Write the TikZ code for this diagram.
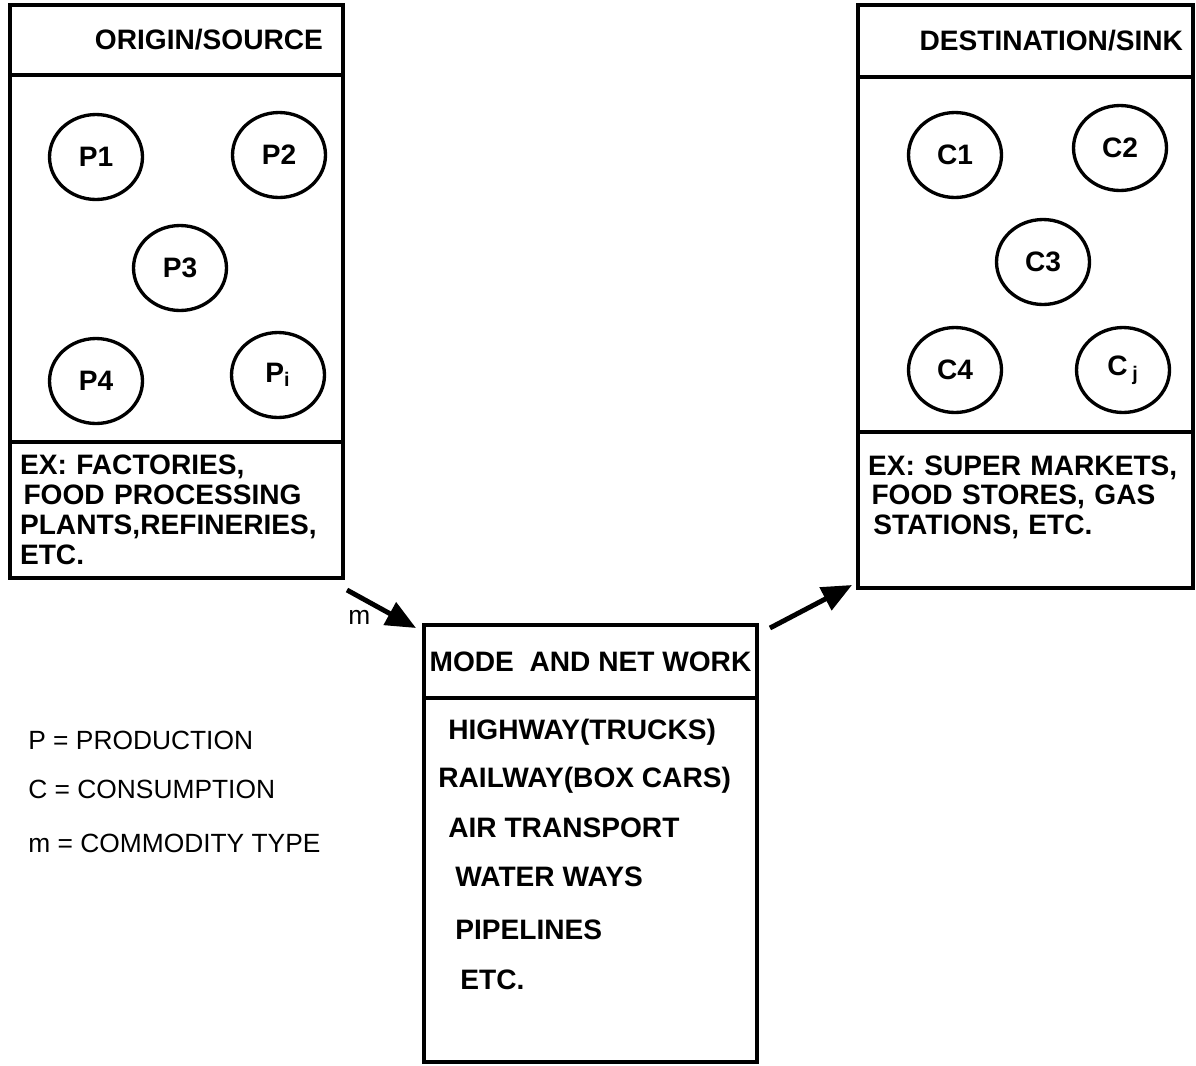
\documentclass[tikz,border=0pt]{standalone}
\usepackage{fontspec}
\setmainfont{Liberation Sans}
\usetikzlibrary{arrows.meta,positioning,shapes.geometric}

\begin{document}
\begin{tikzpicture}[x=0.02cm, y=-0.02cm,
  frame/.style={draw, line width=1.9pt, inner sep=0pt, outer sep=0pt},
  hdr/.style={frame, font=\fontsize{16}{17}\selectfont\bfseries, align=right},
  exbox/.style={frame, font=\fontsize{16}{17}\selectfont\bfseries, align=left, inner xsep=0.2cm},
  site/.style={ellipse, draw, line width=1.9pt, minimum width=1.86cm, minimum height=1.7cm, inner sep=0pt, font=\fontsize{16}{17}\selectfont\bfseries},
  item/.style={anchor=west, inner sep=0pt, font=\fontsize{16}{17}\selectfont\bfseries},
  key/.style={anchor=west, inner sep=0pt, font=\fontsize{15}{17}\selectfont},
  flow/.style={line width=2.8pt, -{Triangle[length=0.6cm,width=0.5cm]}}
]
  \useasboundingbox (0,0) rectangle (1196,1065);

  % origin / source
  \node[hdr, minimum width=6.66cm, minimum height=1.4cm, text width=5.86cm, inner xsep=0.4cm] (srchdr) at (176.5,40) {ORIGIN/SOURCE};
  \node[frame, minimum width=6.66cm, minimum height=7.34cm] (srcbody) at (176.5,258.5) {};
  \node[exbox, minimum width=6.66cm, minimum height=2.72cm, text width=6.26cm] (srcex) at (176.5,510)
    {EX: FACTORIES,\\ \hspace{2pt}FOOD PROCESSING\\ PLANTS,REFINERIES,\\ ETC.};

  \node[site] (p1) at (96,157) {P1};
  \node[site] (p2) at (279,155) {P2};
  \node[site] (p3) at (180,268) {P3};
  \node[site] (p4) at (96,381) {P4};
  \node[site] (pi) at (278,375) {P\textsubscript{i}};

  % destination / sink
  \node[hdr, minimum width=6.7cm, minimum height=1.44cm, text width=6.3cm, inner xsep=0.2cm] (dsthdr) at (1025.5,41) {DESTINATION/SINK};
  \node[frame, minimum width=6.7cm, minimum height=7.1cm] (dstbody) at (1025.5,254.5) {};
  \node[exbox, minimum width=6.7cm, minimum height=3.12cm, text width=6.3cm] (dstex) at (1025.5,510)
    {EX: SUPER MARKETS,\\ \hspace{2pt}FOOD STORES, GAS\\ \hspace{3pt}STATIONS, ETC.\\ \mbox{}};

  \node[site] (c1) at (955,155) {C1};
  \node[site] (c2) at (1120,148) {C2};
  \node[site] (c3) at (1043,262) {C3};
  \node[site] (c4) at (955,370) {C4};
  \node[site] (cj) at (1123,370) {C\,\textsubscript{j}};

  % mode and network
  \node[hdr, align=center, minimum width=6.66cm, minimum height=1.46cm] (modehdr) at (590.5,661.5) {MODE\ \ AND NET WORK};
  \node[frame, minimum width=6.66cm, minimum height=7.28cm] (modebody) at (590.5,880) {};

  \node[item] (hwy) at (448,732) {HIGHWAY(TRUCKS)};
  \node[item] (rail) at (438,780) {RAILWAY(BOX CARS)};
  \node[item] (air) at (448,828) {AIR TRANSPORT};
  \node[item] (water) at (455,877) {WATER WAYS};
  \node[item] (pipe) at (455,930) {PIPELINES};
  \node[item] (etc) at (460,980) {ETC.};

  % flows
  \draw[flow] ([shift={(4,12)}]srcex.south east) -- ([shift={(-8,3)}]modehdr.north west);
  \node[key] (mlabel) at (348,617) {m};
  \draw[flow] ([shift={(13,3)}]modehdr.north east) -- ([shift={(-6,-3)}]dstex.south west);

  % key
  \node[key] (keyp) at (28,740) {P = PRODUCTION};
  \node[key] (keyc) at (28,789) {C = CONSUMPTION};
  \node[key] (keym) at (28,843) {m = COMMODITY TYPE};
\end{tikzpicture}
\end{document}
